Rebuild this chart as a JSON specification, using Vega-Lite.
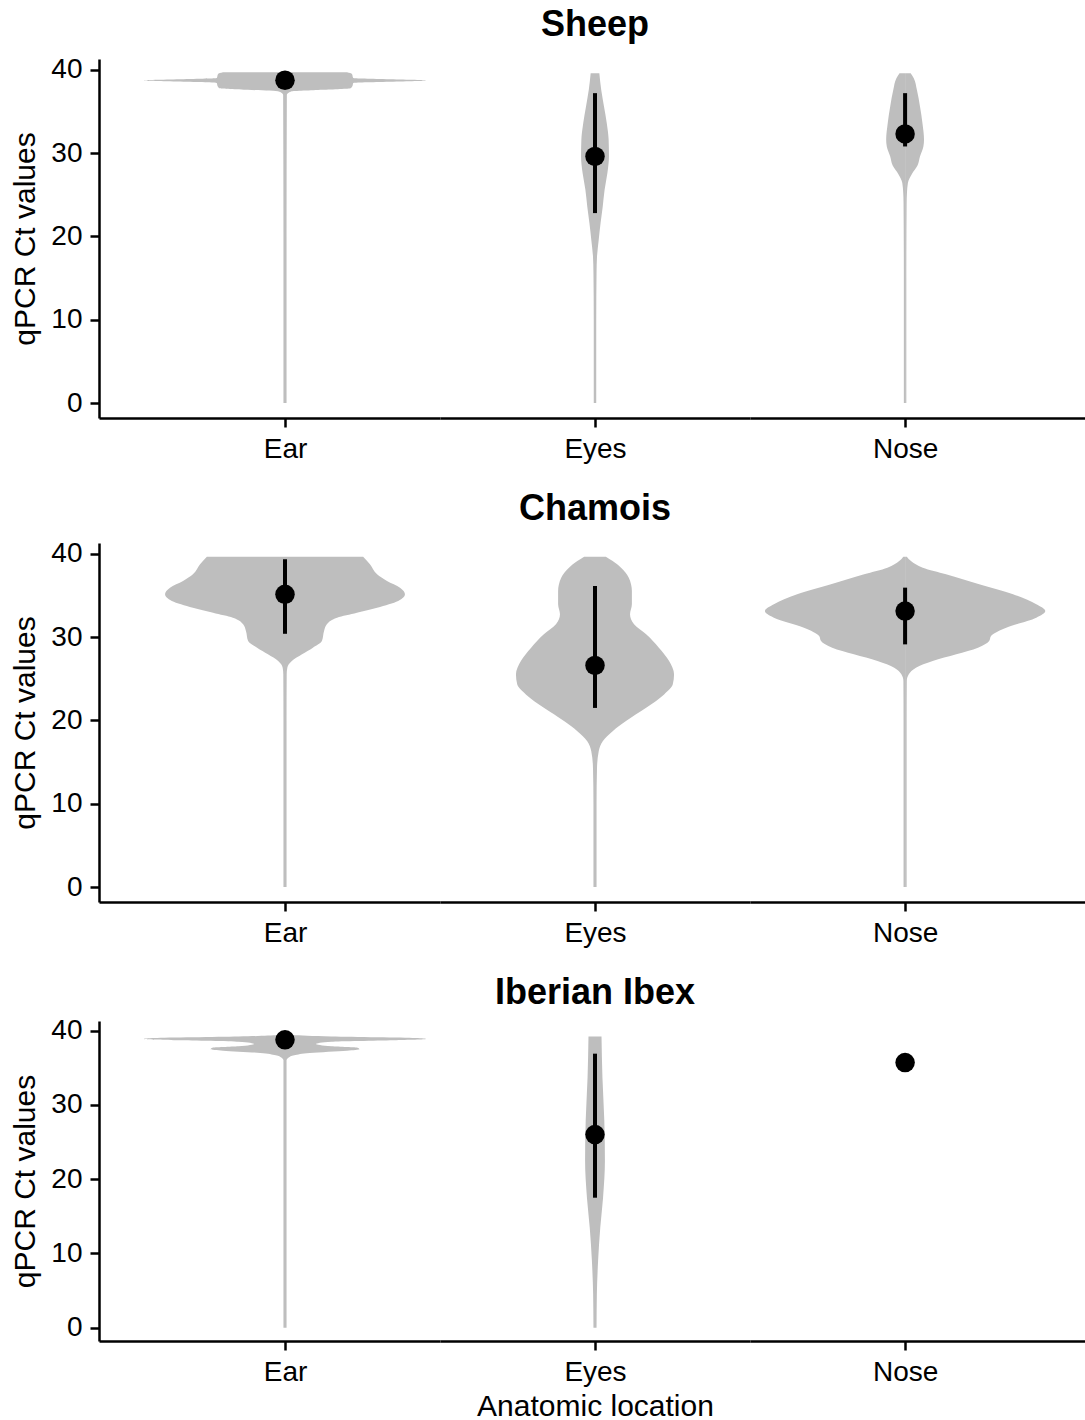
{
  "$schema": "https://vega.github.io/schema/vega-lite/v6.json",
  "padding": {"left": 10, "top": 7, "right": 0, "bottom": 0},
  "spacing": 28,
  "config": {
    "view": {"stroke": null},
    "font": "Liberation Sans",
    "axis": {"grid": false, "domainColor": "#000", "domainWidth": 2.5, "tickColor": "#000", "tickWidth": 2.5, "tickSize": 9, "labelFont": "Liberation Sans", "labelFontSize": 28, "labelColor": "#000", "labelPadding": 8, "titleFont": "Liberation Sans", "titleFontSize": 30, "titleFontWeight": "normal", "titleColor": "#000"},
    "axisY": {"titlePadding": 10},
    "axisX": {"titlePadding": 5},
    "title": {"font": "Liberation Sans", "fontSize": 36, "fontWeight": "bold", "color": "#000", "anchor": "middle", "frame": "group", "offset": 15}
  },
  "datasets": {
    "d": [
      {"sp":"Sheep","loc":"Ear","k":"v","ct":0,"w":0.005},
      {"sp":"Sheep","loc":"Ear","k":"v","ct":20,"w":0.005},
      {"sp":"Sheep","loc":"Ear","k":"v","ct":37.0,"w":0.006},
      {"sp":"Sheep","loc":"Ear","k":"v","ct":37.4,"w":0.02},
      {"sp":"Sheep","loc":"Ear","k":"v","ct":37.6,"w":0.12},
      {"sp":"Sheep","loc":"Ear","k":"v","ct":37.8,"w":0.212},
      {"sp":"Sheep","loc":"Ear","k":"v","ct":38.1,"w":0.218},
      {"sp":"Sheep","loc":"Ear","k":"v","ct":38.42,"w":0.22},
      {"sp":"Sheep","loc":"Ear","k":"v","ct":38.72,"w":0.455},
      {"sp":"Sheep","loc":"Ear","k":"v","ct":39.02,"w":0.22},
      {"sp":"Sheep","loc":"Ear","k":"v","ct":39.5,"w":0.216},
      {"sp":"Sheep","loc":"Ear","k":"v","ct":39.7,"w":0.2},
      {"sp":"Sheep","loc":"Eyes","k":"v","ct":0,"w":0.004},
      {"sp":"Sheep","loc":"Eyes","k":"v","ct":10,"w":0.004},
      {"sp":"Sheep","loc":"Eyes","k":"v","ct":15.6,"w":0.005},
      {"sp":"Sheep","loc":"Eyes","k":"v","ct":17.6,"w":0.0065},
      {"sp":"Sheep","loc":"Eyes","k":"v","ct":19.6,"w":0.012},
      {"sp":"Sheep","loc":"Eyes","k":"v","ct":21.6,"w":0.018},
      {"sp":"Sheep","loc":"Eyes","k":"v","ct":23.6,"w":0.025},
      {"sp":"Sheep","loc":"Eyes","k":"v","ct":25.6,"w":0.031},
      {"sp":"Sheep","loc":"Eyes","k":"v","ct":27.6,"w":0.04},
      {"sp":"Sheep","loc":"Eyes","k":"v","ct":29.6,"w":0.045},
      {"sp":"Sheep","loc":"Eyes","k":"v","ct":31.6,"w":0.044},
      {"sp":"Sheep","loc":"Eyes","k":"v","ct":33.6,"w":0.038},
      {"sp":"Sheep","loc":"Eyes","k":"v","ct":35.6,"w":0.029},
      {"sp":"Sheep","loc":"Eyes","k":"v","ct":37.6,"w":0.02},
      {"sp":"Sheep","loc":"Eyes","k":"v","ct":39.6,"w":0.014},
      {"sp":"Sheep","loc":"Nose","k":"v","ct":0,"w":0.004},
      {"sp":"Sheep","loc":"Nose","k":"v","ct":15,"w":0.004},
      {"sp":"Sheep","loc":"Nose","k":"v","ct":24,"w":0.005},
      {"sp":"Sheep","loc":"Nose","k":"v","ct":25.2,"w":0.006},
      {"sp":"Sheep","loc":"Nose","k":"v","ct":26.4,"w":0.009},
      {"sp":"Sheep","loc":"Nose","k":"v","ct":27.5,"w":0.022},
      {"sp":"Sheep","loc":"Nose","k":"v","ct":28.5,"w":0.04},
      {"sp":"Sheep","loc":"Nose","k":"v","ct":29.6,"w":0.048},
      {"sp":"Sheep","loc":"Nose","k":"v","ct":30.8,"w":0.059},
      {"sp":"Sheep","loc":"Nose","k":"v","ct":31.6,"w":0.061},
      {"sp":"Sheep","loc":"Nose","k":"v","ct":33.6,"w":0.056},
      {"sp":"Sheep","loc":"Nose","k":"v","ct":35.6,"w":0.048},
      {"sp":"Sheep","loc":"Nose","k":"v","ct":37.6,"w":0.038},
      {"sp":"Sheep","loc":"Nose","k":"v","ct":39.0,"w":0.028},
      {"sp":"Sheep","loc":"Nose","k":"v","ct":39.6,"w":0.018},
      {"sp":"Chamois","loc":"Ear","k":"v","ct":0,"w":0.005},
      {"sp":"Chamois","loc":"Ear","k":"v","ct":20,"w":0.005},
      {"sp":"Chamois","loc":"Ear","k":"v","ct":25.53,"w":0.0055},
      {"sp":"Chamois","loc":"Ear","k":"v","ct":26.32,"w":0.0075},
      {"sp":"Chamois","loc":"Ear","k":"v","ct":27.13,"w":0.022},
      {"sp":"Chamois","loc":"Ear","k":"v","ct":27.93,"w":0.055},
      {"sp":"Chamois","loc":"Ear","k":"v","ct":28.73,"w":0.09},
      {"sp":"Chamois","loc":"Ear","k":"v","ct":29.53,"w":0.119},
      {"sp":"Chamois","loc":"Ear","k":"v","ct":30.73,"w":0.126},
      {"sp":"Chamois","loc":"Ear","k":"v","ct":31.54,"w":0.135},
      {"sp":"Chamois","loc":"Ear","k":"v","ct":32.33,"w":0.168},
      {"sp":"Chamois","loc":"Ear","k":"v","ct":32.93,"w":0.232},
      {"sp":"Chamois","loc":"Ear","k":"v","ct":33.53,"w":0.297},
      {"sp":"Chamois","loc":"Ear","k":"v","ct":34.34,"w":0.365},
      {"sp":"Chamois","loc":"Ear","k":"v","ct":35.14,"w":0.387},
      {"sp":"Chamois","loc":"Ear","k":"v","ct":35.94,"w":0.371},
      {"sp":"Chamois","loc":"Ear","k":"v","ct":36.74,"w":0.329},
      {"sp":"Chamois","loc":"Ear","k":"v","ct":37.55,"w":0.297},
      {"sp":"Chamois","loc":"Ear","k":"v","ct":38.75,"w":0.274},
      {"sp":"Chamois","loc":"Ear","k":"v","ct":39.66,"w":0.252},
      {"sp":"Chamois","loc":"Eyes","k":"v","ct":0,"w":0.005},
      {"sp":"Chamois","loc":"Eyes","k":"v","ct":10,"w":0.005},
      {"sp":"Chamois","loc":"Eyes","k":"v","ct":14.3,"w":0.0065},
      {"sp":"Chamois","loc":"Eyes","k":"v","ct":16.31,"w":0.012},
      {"sp":"Chamois","loc":"Eyes","k":"v","ct":17.51,"w":0.025},
      {"sp":"Chamois","loc":"Eyes","k":"v","ct":18.71,"w":0.057},
      {"sp":"Chamois","loc":"Eyes","k":"v","ct":19.92,"w":0.1},
      {"sp":"Chamois","loc":"Eyes","k":"v","ct":21.51,"w":0.165},
      {"sp":"Chamois","loc":"Eyes","k":"v","ct":23.12,"w":0.223},
      {"sp":"Chamois","loc":"Eyes","k":"v","ct":24.33,"w":0.251},
      {"sp":"Chamois","loc":"Eyes","k":"v","ct":25.53,"w":0.255},
      {"sp":"Chamois","loc":"Eyes","k":"v","ct":27.13,"w":0.239},
      {"sp":"Chamois","loc":"Eyes","k":"v","ct":28.73,"w":0.206},
      {"sp":"Chamois","loc":"Eyes","k":"v","ct":30.34,"w":0.165},
      {"sp":"Chamois","loc":"Eyes","k":"v","ct":31.54,"w":0.126},
      {"sp":"Chamois","loc":"Eyes","k":"v","ct":32.74,"w":0.113},
      {"sp":"Chamois","loc":"Eyes","k":"v","ct":33.94,"w":0.119},
      {"sp":"Chamois","loc":"Eyes","k":"v","ct":35.54,"w":0.119},
      {"sp":"Chamois","loc":"Eyes","k":"v","ct":37.14,"w":0.109},
      {"sp":"Chamois","loc":"Eyes","k":"v","ct":38.34,"w":0.084},
      {"sp":"Chamois","loc":"Eyes","k":"v","ct":39.15,"w":0.057},
      {"sp":"Chamois","loc":"Eyes","k":"v","ct":39.66,"w":0.035},
      {"sp":"Chamois","loc":"Nose","k":"v","ct":0,"w":0.005},
      {"sp":"Chamois","loc":"Nose","k":"v","ct":20,"w":0.005},
      {"sp":"Chamois","loc":"Nose","k":"v","ct":24.72,"w":0.0055},
      {"sp":"Chamois","loc":"Nose","k":"v","ct":25.53,"w":0.012},
      {"sp":"Chamois","loc":"Nose","k":"v","ct":26.32,"w":0.035},
      {"sp":"Chamois","loc":"Nose","k":"v","ct":27.13,"w":0.089},
      {"sp":"Chamois","loc":"Nose","k":"v","ct":27.93,"w":0.165},
      {"sp":"Chamois","loc":"Nose","k":"v","ct":28.73,"w":0.235},
      {"sp":"Chamois","loc":"Nose","k":"v","ct":29.53,"w":0.271},
      {"sp":"Chamois","loc":"Nose","k":"v","ct":30.13,"w":0.277},
      {"sp":"Chamois","loc":"Nose","k":"v","ct":31.13,"w":0.326},
      {"sp":"Chamois","loc":"Nose","k":"v","ct":32.33,"w":0.423},
      {"sp":"Chamois","loc":"Nose","k":"v","ct":33.13,"w":0.452},
      {"sp":"Chamois","loc":"Nose","k":"v","ct":33.94,"w":0.423},
      {"sp":"Chamois","loc":"Nose","k":"v","ct":35.14,"w":0.348},
      {"sp":"Chamois","loc":"Nose","k":"v","ct":36.34,"w":0.239},
      {"sp":"Chamois","loc":"Nose","k":"v","ct":37.55,"w":0.132},
      {"sp":"Chamois","loc":"Nose","k":"v","ct":38.34,"w":0.057},
      {"sp":"Chamois","loc":"Nose","k":"v","ct":39.15,"w":0.019},
      {"sp":"Chamois","loc":"Nose","k":"v","ct":39.66,"w":0.0055},
      {"sp":"Ibex","loc":"Ear","k":"v","ct":0,"w":0.005},
      {"sp":"Ibex","loc":"Ear","k":"v","ct":20,"w":0.005},
      {"sp":"Ibex","loc":"Ear","k":"v","ct":36.0,"w":0.005},
      {"sp":"Ibex","loc":"Ear","k":"v","ct":36.4,"w":0.012},
      {"sp":"Ibex","loc":"Ear","k":"v","ct":36.7,"w":0.03},
      {"sp":"Ibex","loc":"Ear","k":"v","ct":37.0,"w":0.08},
      {"sp":"Ibex","loc":"Ear","k":"v","ct":37.3,"w":0.2},
      {"sp":"Ibex","loc":"Ear","k":"v","ct":37.5,"w":0.24},
      {"sp":"Ibex","loc":"Ear","k":"v","ct":37.7,"w":0.235},
      {"sp":"Ibex","loc":"Ear","k":"v","ct":37.9,"w":0.15},
      {"sp":"Ibex","loc":"Ear","k":"v","ct":38.2,"w":0.1},
      {"sp":"Ibex","loc":"Ear","k":"v","ct":38.5,"w":0.15},
      {"sp":"Ibex","loc":"Ear","k":"v","ct":38.7,"w":0.35},
      {"sp":"Ibex","loc":"Ear","k":"v","ct":38.87,"w":0.455},
      {"sp":"Ibex","loc":"Ear","k":"v","ct":39.0,"w":0.42},
      {"sp":"Ibex","loc":"Ear","k":"v","ct":39.2,"w":0.15},
      {"sp":"Ibex","loc":"Ear","k":"v","ct":39.4,"w":0.02},
      {"sp":"Ibex","loc":"Eyes","k":"v","ct":0,"w":0.005},
      {"sp":"Ibex","loc":"Eyes","k":"v","ct":4.5,"w":0.006},
      {"sp":"Ibex","loc":"Eyes","k":"v","ct":9.0,"w":0.01},
      {"sp":"Ibex","loc":"Eyes","k":"v","ct":13.5,"w":0.017},
      {"sp":"Ibex","loc":"Eyes","k":"v","ct":17.5,"w":0.026},
      {"sp":"Ibex","loc":"Eyes","k":"v","ct":22.5,"w":0.032},
      {"sp":"Ibex","loc":"Eyes","k":"v","ct":27.9,"w":0.03},
      {"sp":"Ibex","loc":"Eyes","k":"v","ct":33.7,"w":0.024},
      {"sp":"Ibex","loc":"Eyes","k":"v","ct":39.2,"w":0.021},
      {"sp":"Sheep","loc":"Ear","k":"s","ct":38.75},
      {"sp":"Sheep","loc":"Eyes","k":"s","ct":29.6,"lo":22.8,"hi":37.2},
      {"sp":"Sheep","loc":"Nose","k":"s","ct":32.3,"lo":30.8,"hi":37.2},
      {"sp":"Chamois","loc":"Ear","k":"s","ct":35.14,"lo":30.4,"hi":39.35},
      {"sp":"Chamois","loc":"Eyes","k":"s","ct":26.6,"lo":21.5,"hi":36.14},
      {"sp":"Chamois","loc":"Nose","k":"s","ct":33.13,"lo":29.13,"hi":35.94},
      {"sp":"Ibex","loc":"Ear","k":"s","ct":38.77},
      {"sp":"Ibex","loc":"Eyes","k":"s","ct":26.0,"lo":17.5,"hi":36.9},
      {"sp":"Ibex","loc":"Nose","k":"s","ct":35.7}
    ]
  },
  "vconcat": [
    {
      "hconcat": [
        {
          "width": 341, "height": 359,
          "data": {"name": "d"},
          "transform": [{"filter": "datum.sp=='Sheep'&&datum.loc=='Ear'"}],
          "encoding": {"y": {"field": "ct", "type": "quantitative", "scale": {"domain": [-1.8, 41.3], "nice": false, "zero": false}, "axis": {"values": [0, 10, 20, 30, 40], "title": "qPCR Ct values"}}},
          "layer": [
            {"transform": [{"filter": "datum.k=='v'"}], "mark": {"type": "area", "orient": "horizontal", "color": "#bebebe", "interpolate": "monotone", "opacity": 1}, "encoding": {"x": {"field": "w", "type": "quantitative", "scale": {"domain": [-0.5, 0.6], "reverse": true, "nice": false, "zero": false}, "axis": null}, "x2": {"datum": 0}}},
            {"layer": [
              {"transform": [{"filter": "datum.k=='v'"}], "mark": {"type": "area", "orient": "horizontal", "color": "#bebebe", "interpolate": "monotone", "opacity": 1}, "encoding": {"x": {"field": "w", "type": "quantitative", "scale": {"domain": [-0.6, 0.5], "nice": false, "zero": false}, "axis": {"values": [0], "labelExpr": "'Ear'", "title": null}}, "x2": {"datum": 0}}},
              {"transform": [{"filter": "datum.k=='s'"}], "mark": {"type": "rule", "color": "#000", "strokeWidth": 4}, "encoding": {"x": {"datum": 0, "type": "quantitative"}, "y": {"field": "lo", "type": "quantitative", "scale": {"domain": [-1.8, 41.3], "nice": false, "zero": false}, "axis": {"values": [0, 10, 20, 30, 40], "title": "qPCR Ct values"}}, "y2": {"field": "hi"}}},
              {"transform": [{"filter": "datum.k=='s'"}], "mark": {"type": "point", "filled": true, "color": "#000", "size": 380, "opacity": 1}, "encoding": {"x": {"datum": 0, "type": "quantitative"}}}
            ]}
          ],
          "resolve": {"scale": {"x": "independent"}}
        },
        {
          "width": 310, "height": 359,
          "title": {"text": "Sheep"},
          "data": {"name": "d"},
          "transform": [{"filter": "datum.sp=='Sheep'&&datum.loc=='Eyes'"}],
          "encoding": {"y": {"field": "ct", "type": "quantitative", "scale": {"domain": [-1.8, 41.3], "nice": false, "zero": false}, "axis": null}},
          "layer": [
            {"transform": [{"filter": "datum.k=='v'"}], "mark": {"type": "area", "orient": "horizontal", "color": "#bebebe", "interpolate": "monotone", "opacity": 1}, "encoding": {"x": {"field": "w", "type": "quantitative", "scale": {"domain": [-0.5, 0.5], "reverse": true, "nice": false, "zero": false}, "axis": null}, "x2": {"datum": 0}}},
            {"layer": [
              {"transform": [{"filter": "datum.k=='v'"}], "mark": {"type": "area", "orient": "horizontal", "color": "#bebebe", "interpolate": "monotone", "opacity": 1}, "encoding": {"x": {"field": "w", "type": "quantitative", "scale": {"domain": [-0.5, 0.5], "nice": false, "zero": false}, "axis": {"values": [0], "labelExpr": "'Eyes'", "title": null}}, "x2": {"datum": 0}}},
              {"transform": [{"filter": "datum.k=='s'"}], "mark": {"type": "rule", "color": "#000", "strokeWidth": 4}, "encoding": {"x": {"datum": 0, "type": "quantitative"}, "y": {"field": "lo", "type": "quantitative", "scale": {"domain": [-1.8, 41.3], "nice": false, "zero": false}, "axis": null}, "y2": {"field": "hi"}}},
              {"transform": [{"filter": "datum.k=='s'"}], "mark": {"type": "point", "filled": true, "color": "#000", "size": 380, "opacity": 1}, "encoding": {"x": {"datum": 0, "type": "quantitative"}}}
            ]}
          ],
          "resolve": {"scale": {"x": "independent"}}
        },
        {
          "width": 335, "height": 359,
          "data": {"name": "d"},
          "transform": [{"filter": "datum.sp=='Sheep'&&datum.loc=='Nose'"}],
          "encoding": {"y": {"field": "ct", "type": "quantitative", "scale": {"domain": [-1.8, 41.3], "nice": false, "zero": false}, "axis": null}},
          "layer": [
            {"transform": [{"filter": "datum.k=='v'"}], "mark": {"type": "area", "orient": "horizontal", "color": "#bebebe", "interpolate": "monotone", "opacity": 1}, "encoding": {"x": {"field": "w", "type": "quantitative", "scale": {"domain": [-0.58, 0.5], "reverse": true, "nice": false, "zero": false}, "axis": null}, "x2": {"datum": 0}}},
            {"layer": [
              {"transform": [{"filter": "datum.k=='v'"}], "mark": {"type": "area", "orient": "horizontal", "color": "#bebebe", "interpolate": "monotone", "opacity": 1}, "encoding": {"x": {"field": "w", "type": "quantitative", "scale": {"domain": [-0.5, 0.58], "nice": false, "zero": false}, "axis": {"values": [0], "labelExpr": "'Nose'", "title": null}}, "x2": {"datum": 0}}},
              {"transform": [{"filter": "datum.k=='s'"}], "mark": {"type": "rule", "color": "#000", "strokeWidth": 4}, "encoding": {"x": {"datum": 0, "type": "quantitative"}, "y": {"field": "lo", "type": "quantitative", "scale": {"domain": [-1.8, 41.3], "nice": false, "zero": false}, "axis": null}, "y2": {"field": "hi"}}},
              {"transform": [{"filter": "datum.k=='s'"}], "mark": {"type": "point", "filled": true, "color": "#000", "size": 380, "opacity": 1}, "encoding": {"x": {"datum": 0, "type": "quantitative"}}}
            ]}
          ],
          "resolve": {"scale": {"x": "independent"}}
        }
      ],
      "spacing": 0,
      "bounds": "flush"
    },
    {
      "hconcat": [
        {
          "width": 341, "height": 359,
          "data": {"name": "d"},
          "transform": [{"filter": "datum.sp=='Chamois'&&datum.loc=='Ear'"}],
          "encoding": {"y": {"field": "ct", "type": "quantitative", "scale": {"domain": [-1.8, 41.3], "nice": false, "zero": false}, "axis": {"values": [0, 10, 20, 30, 40], "title": "qPCR Ct values"}}},
          "layer": [
            {"transform": [{"filter": "datum.k=='v'"}], "mark": {"type": "area", "orient": "horizontal", "color": "#bebebe", "interpolate": "monotone", "opacity": 1}, "encoding": {"x": {"field": "w", "type": "quantitative", "scale": {"domain": [-0.5, 0.6], "reverse": true, "nice": false, "zero": false}, "axis": null}, "x2": {"datum": 0}}},
            {"layer": [
              {"transform": [{"filter": "datum.k=='v'"}], "mark": {"type": "area", "orient": "horizontal", "color": "#bebebe", "interpolate": "monotone", "opacity": 1}, "encoding": {"x": {"field": "w", "type": "quantitative", "scale": {"domain": [-0.6, 0.5], "nice": false, "zero": false}, "axis": {"values": [0], "labelExpr": "'Ear'", "title": null}}, "x2": {"datum": 0}}},
              {"transform": [{"filter": "datum.k=='s'"}], "mark": {"type": "rule", "color": "#000", "strokeWidth": 4}, "encoding": {"x": {"datum": 0, "type": "quantitative"}, "y": {"field": "lo", "type": "quantitative", "scale": {"domain": [-1.8, 41.3], "nice": false, "zero": false}, "axis": {"values": [0, 10, 20, 30, 40], "title": "qPCR Ct values"}}, "y2": {"field": "hi"}}},
              {"transform": [{"filter": "datum.k=='s'"}], "mark": {"type": "point", "filled": true, "color": "#000", "size": 380, "opacity": 1}, "encoding": {"x": {"datum": 0, "type": "quantitative"}}}
            ]}
          ],
          "resolve": {"scale": {"x": "independent"}}
        },
        {
          "width": 310, "height": 359,
          "title": {"text": "Chamois"},
          "data": {"name": "d"},
          "transform": [{"filter": "datum.sp=='Chamois'&&datum.loc=='Eyes'"}],
          "encoding": {"y": {"field": "ct", "type": "quantitative", "scale": {"domain": [-1.8, 41.3], "nice": false, "zero": false}, "axis": null}},
          "layer": [
            {"transform": [{"filter": "datum.k=='v'"}], "mark": {"type": "area", "orient": "horizontal", "color": "#bebebe", "interpolate": "monotone", "opacity": 1}, "encoding": {"x": {"field": "w", "type": "quantitative", "scale": {"domain": [-0.5, 0.5], "reverse": true, "nice": false, "zero": false}, "axis": null}, "x2": {"datum": 0}}},
            {"layer": [
              {"transform": [{"filter": "datum.k=='v'"}], "mark": {"type": "area", "orient": "horizontal", "color": "#bebebe", "interpolate": "monotone", "opacity": 1}, "encoding": {"x": {"field": "w", "type": "quantitative", "scale": {"domain": [-0.5, 0.5], "nice": false, "zero": false}, "axis": {"values": [0], "labelExpr": "'Eyes'", "title": null}}, "x2": {"datum": 0}}},
              {"transform": [{"filter": "datum.k=='s'"}], "mark": {"type": "rule", "color": "#000", "strokeWidth": 4}, "encoding": {"x": {"datum": 0, "type": "quantitative"}, "y": {"field": "lo", "type": "quantitative", "scale": {"domain": [-1.8, 41.3], "nice": false, "zero": false}, "axis": null}, "y2": {"field": "hi"}}},
              {"transform": [{"filter": "datum.k=='s'"}], "mark": {"type": "point", "filled": true, "color": "#000", "size": 380, "opacity": 1}, "encoding": {"x": {"datum": 0, "type": "quantitative"}}}
            ]}
          ],
          "resolve": {"scale": {"x": "independent"}}
        },
        {
          "width": 335, "height": 359,
          "data": {"name": "d"},
          "transform": [{"filter": "datum.sp=='Chamois'&&datum.loc=='Nose'"}],
          "encoding": {"y": {"field": "ct", "type": "quantitative", "scale": {"domain": [-1.8, 41.3], "nice": false, "zero": false}, "axis": null}},
          "layer": [
            {"transform": [{"filter": "datum.k=='v'"}], "mark": {"type": "area", "orient": "horizontal", "color": "#bebebe", "interpolate": "monotone", "opacity": 1}, "encoding": {"x": {"field": "w", "type": "quantitative", "scale": {"domain": [-0.58, 0.5], "reverse": true, "nice": false, "zero": false}, "axis": null}, "x2": {"datum": 0}}},
            {"layer": [
              {"transform": [{"filter": "datum.k=='v'"}], "mark": {"type": "area", "orient": "horizontal", "color": "#bebebe", "interpolate": "monotone", "opacity": 1}, "encoding": {"x": {"field": "w", "type": "quantitative", "scale": {"domain": [-0.5, 0.58], "nice": false, "zero": false}, "axis": {"values": [0], "labelExpr": "'Nose'", "title": null}}, "x2": {"datum": 0}}},
              {"transform": [{"filter": "datum.k=='s'"}], "mark": {"type": "rule", "color": "#000", "strokeWidth": 4}, "encoding": {"x": {"datum": 0, "type": "quantitative"}, "y": {"field": "lo", "type": "quantitative", "scale": {"domain": [-1.8, 41.3], "nice": false, "zero": false}, "axis": null}, "y2": {"field": "hi"}}},
              {"transform": [{"filter": "datum.k=='s'"}], "mark": {"type": "point", "filled": true, "color": "#000", "size": 380, "opacity": 1}, "encoding": {"x": {"datum": 0, "type": "quantitative"}}}
            ]}
          ],
          "resolve": {"scale": {"x": "independent"}}
        }
      ],
      "spacing": 0,
      "bounds": "flush"
    },
    {
      "hconcat": [
        {
          "width": 341, "height": 320,
          "data": {"name": "d"},
          "transform": [{"filter": "datum.sp=='Ibex'&&datum.loc=='Ear'"}],
          "encoding": {"y": {"field": "ct", "type": "quantitative", "scale": {"domain": [-1.8, 41.3], "nice": false, "zero": false}, "axis": {"values": [0, 10, 20, 30, 40], "title": "qPCR Ct values"}}},
          "layer": [
            {"transform": [{"filter": "datum.k=='v'"}], "mark": {"type": "area", "orient": "horizontal", "color": "#bebebe", "interpolate": "monotone", "opacity": 1}, "encoding": {"x": {"field": "w", "type": "quantitative", "scale": {"domain": [-0.5, 0.6], "reverse": true, "nice": false, "zero": false}, "axis": null}, "x2": {"datum": 0}}},
            {"layer": [
              {"transform": [{"filter": "datum.k=='v'"}], "mark": {"type": "area", "orient": "horizontal", "color": "#bebebe", "interpolate": "monotone", "opacity": 1}, "encoding": {"x": {"field": "w", "type": "quantitative", "scale": {"domain": [-0.6, 0.5], "nice": false, "zero": false}, "axis": {"values": [0], "labelExpr": "'Ear'", "title": null}}, "x2": {"datum": 0}}},
              {"transform": [{"filter": "datum.k=='s'"}], "mark": {"type": "rule", "color": "#000", "strokeWidth": 4}, "encoding": {"x": {"datum": 0, "type": "quantitative"}, "y": {"field": "lo", "type": "quantitative", "scale": {"domain": [-1.8, 41.3], "nice": false, "zero": false}, "axis": {"values": [0, 10, 20, 30, 40], "title": "qPCR Ct values"}}, "y2": {"field": "hi"}}},
              {"transform": [{"filter": "datum.k=='s'"}], "mark": {"type": "point", "filled": true, "color": "#000", "size": 380, "opacity": 1}, "encoding": {"x": {"datum": 0, "type": "quantitative"}}}
            ]}
          ],
          "resolve": {"scale": {"x": "independent"}}
        },
        {
          "width": 310, "height": 320,
          "title": {"text": "Iberian Ibex", "offset": 9},
          "data": {"name": "d"},
          "transform": [{"filter": "datum.sp=='Ibex'&&datum.loc=='Eyes'"}],
          "encoding": {"y": {"field": "ct", "type": "quantitative", "scale": {"domain": [-1.8, 41.3], "nice": false, "zero": false}, "axis": null}},
          "layer": [
            {"transform": [{"filter": "datum.k=='v'"}], "mark": {"type": "area", "orient": "horizontal", "color": "#bebebe", "interpolate": "monotone", "opacity": 1}, "encoding": {"x": {"field": "w", "type": "quantitative", "scale": {"domain": [-0.5, 0.5], "reverse": true, "nice": false, "zero": false}, "axis": null}, "x2": {"datum": 0}}},
            {"layer": [
              {"transform": [{"filter": "datum.k=='v'"}], "mark": {"type": "area", "orient": "horizontal", "color": "#bebebe", "interpolate": "monotone", "opacity": 1}, "encoding": {"x": {"field": "w", "type": "quantitative", "scale": {"domain": [-0.5, 0.5], "nice": false, "zero": false}, "axis": {"values": [0], "labelExpr": "'Eyes'", "title": "Anatomic location"}}, "x2": {"datum": 0}}},
              {"transform": [{"filter": "datum.k=='s'"}], "mark": {"type": "rule", "color": "#000", "strokeWidth": 4}, "encoding": {"x": {"datum": 0, "type": "quantitative"}, "y": {"field": "lo", "type": "quantitative", "scale": {"domain": [-1.8, 41.3], "nice": false, "zero": false}, "axis": null}, "y2": {"field": "hi"}}},
              {"transform": [{"filter": "datum.k=='s'"}], "mark": {"type": "point", "filled": true, "color": "#000", "size": 380, "opacity": 1}, "encoding": {"x": {"datum": 0, "type": "quantitative"}}}
            ]}
          ],
          "resolve": {"scale": {"x": "independent"}}
        },
        {
          "width": 335, "height": 320,
          "data": {"name": "d"},
          "transform": [{"filter": "datum.sp=='Ibex'&&datum.loc=='Nose'"}],
          "encoding": {"y": {"field": "ct", "type": "quantitative", "scale": {"domain": [-1.8, 41.3], "nice": false, "zero": false}, "axis": null}},
          "layer": [
            {"transform": [{"filter": "datum.k=='v'"}], "mark": {"type": "area", "orient": "horizontal", "color": "#bebebe", "interpolate": "monotone", "opacity": 1}, "encoding": {"x": {"field": "w", "type": "quantitative", "scale": {"domain": [-0.58, 0.5], "reverse": true, "nice": false, "zero": false}, "axis": null}, "x2": {"datum": 0}}},
            {"layer": [
              {"transform": [{"filter": "datum.k=='v'"}], "mark": {"type": "area", "orient": "horizontal", "color": "#bebebe", "interpolate": "monotone", "opacity": 1}, "encoding": {"x": {"field": "w", "type": "quantitative", "scale": {"domain": [-0.5, 0.58], "nice": false, "zero": false}, "axis": {"values": [0], "labelExpr": "'Nose'", "title": null}}, "x2": {"datum": 0}}},
              {"transform": [{"filter": "datum.k=='s'"}], "mark": {"type": "rule", "color": "#000", "strokeWidth": 4}, "encoding": {"x": {"datum": 0, "type": "quantitative"}, "y": {"field": "lo", "type": "quantitative", "scale": {"domain": [-1.8, 41.3], "nice": false, "zero": false}, "axis": null}, "y2": {"field": "hi"}}},
              {"transform": [{"filter": "datum.k=='s'"}], "mark": {"type": "point", "filled": true, "color": "#000", "size": 380, "opacity": 1}, "encoding": {"x": {"datum": 0, "type": "quantitative"}}}
            ]}
          ],
          "resolve": {"scale": {"x": "independent"}}
        }
      ],
      "spacing": 0,
      "bounds": "flush"
    }
  ]
}
